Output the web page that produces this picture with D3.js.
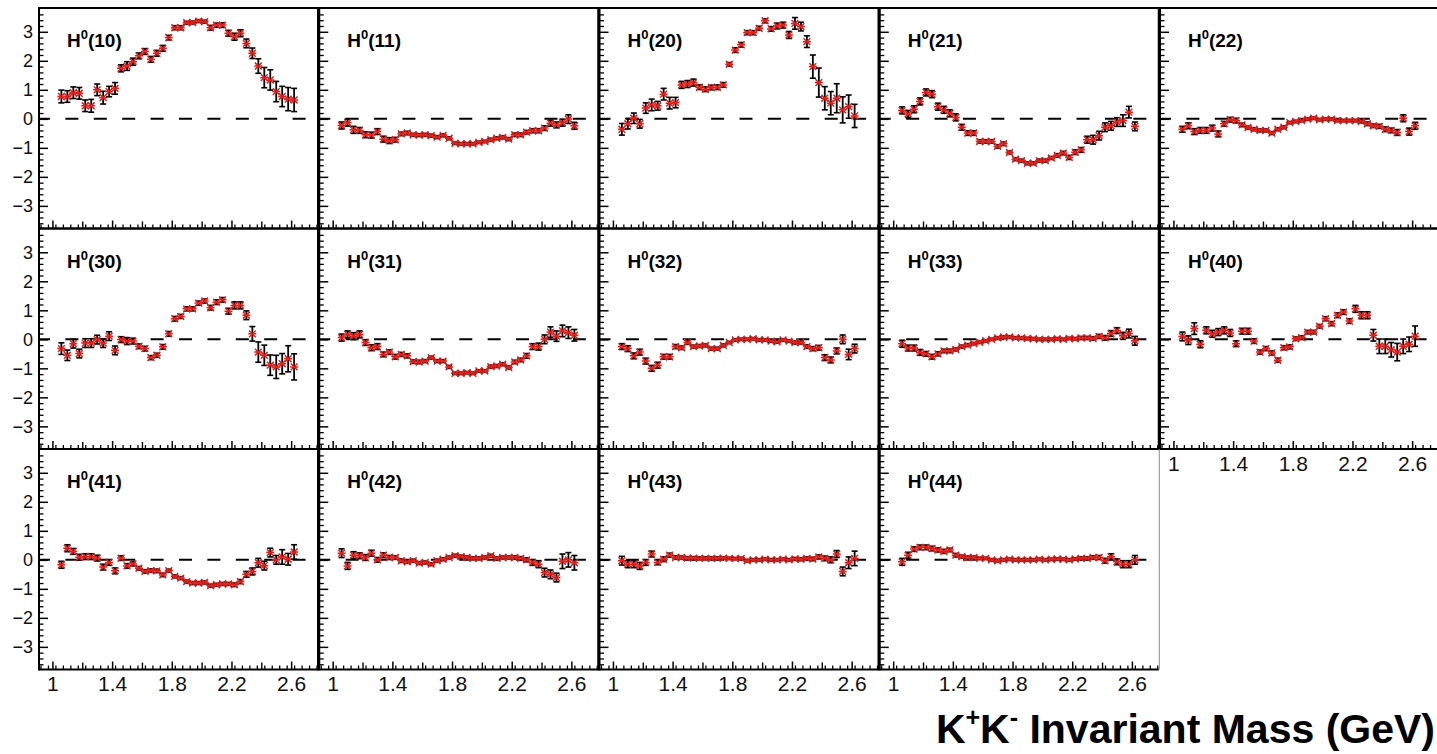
<!DOCTYPE html>
<html>
<head>
<meta charset="utf-8">
<script src="https://cdn.jsdelivr.net/npm/d3@7"></script>
<style>
  html, body { margin: 0; padding: 0; background: #fff; overflow: hidden; }
  svg { display: block; }
  text { font-family: "Liberation Sans", Arial, Helvetica, sans-serif; }
</style>
</head>
<body>
<svg id="chart" width="1437" height="754"></svg>
<script>
// K+K- invariant-mass bin centres (GeV)
const massBins = [1.06,1.10,1.14,1.18,1.22,1.26,1.30,1.34,1.38,1.42,1.46,1.50,1.54,1.58,1.62,1.66,1.70,1.74,1.78,1.82,
                  1.86,1.90,1.94,1.98,2.02,2.06,2.10,2.14,2.18,2.22,2.26,2.30,2.34,2.38,2.42,2.46,2.50,2.54,2.58,2.62];

const xTickValues = [1.0, 1.4, 1.8, 2.2, 2.6];
const yTickValues = [3, 2, 1, 0, -1, -2, -3];

// Moment labels H^0(LM), one per pad
const momentLabels = ["10","11","20","21","22","30","31","32","33","40","41","42","43","44"];

// Moment values and their uncertainties per mass bin
const h10 = [0.77,0.77,0.90,0.88,0.45,0.45,1.00,0.73,0.94,1.05,1.74,1.82,1.97,2.17,2.32,2.05,2.26,2.43,2.80,3.14,3.14,3.31,3.32,3.37,3.35,3.14,3.23,3.23,2.95,2.83,2.95,2.60,2.26,1.82,1.42,1.34,0.94,0.77,0.68,0.65];
const h10Err = [0.22,0.20,0.20,0.20,0.20,0.22,0.20,0.22,0.18,0.20,0.12,0.15,0.12,0.10,0.10,0.10,0.10,0.10,0.08,0.07,0.07,0.05,0.05,0.05,0.05,0.08,0.07,0.08,0.10,0.12,0.12,0.15,0.18,0.25,0.35,0.35,0.35,0.35,0.40,0.40];

const h11 = [-0.23,-0.13,-0.38,-0.40,-0.55,-0.56,-0.44,-0.70,-0.75,-0.72,-0.52,-0.49,-0.55,-0.56,-0.55,-0.58,-0.63,-0.57,-0.67,-0.84,-0.86,-0.86,-0.86,-0.81,-0.78,-0.72,-0.67,-0.64,-0.70,-0.55,-0.55,-0.46,-0.41,-0.41,-0.32,-0.15,-0.21,-0.13,-0.01,-0.24];
const h11Err = [0.12,0.12,0.12,0.10,0.10,0.10,0.10,0.10,0.10,0.08,0.06,0.06,0.05,0.05,0.05,0.05,0.05,0.05,0.05,0.04,0.04,0.04,0.04,0.04,0.04,0.05,0.05,0.05,0.05,0.06,0.06,0.06,0.07,0.07,0.08,0.10,0.10,0.12,0.15,0.12];

const h20 = [-0.36,-0.17,0.02,-0.17,0.37,0.48,0.45,0.85,0.54,0.56,1.17,1.20,1.25,1.09,1.02,1.08,1.09,1.17,1.88,2.37,2.55,2.97,2.97,3.12,3.38,3.10,3.20,3.23,2.89,3.29,3.18,2.66,1.80,1.25,0.71,0.54,0.71,0.31,0.42,0.10];
const h20Err = [0.20,0.18,0.18,0.15,0.18,0.20,0.15,0.20,0.20,0.18,0.12,0.12,0.12,0.08,0.08,0.08,0.08,0.08,0.06,0.08,0.08,0.07,0.07,0.07,0.07,0.08,0.10,0.10,0.12,0.20,0.15,0.20,0.40,0.50,0.40,0.40,0.50,0.45,0.40,0.40];

const h21 = [0.29,0.17,0.33,0.60,0.91,0.85,0.42,0.31,0.19,0.05,-0.29,-0.49,-0.49,-0.78,-0.78,-0.78,-0.95,-0.86,-1.16,-1.39,-1.44,-1.53,-1.53,-1.44,-1.44,-1.35,-1.26,-1.18,-1.33,-1.15,-1.07,-0.72,-0.72,-0.58,-0.29,-0.24,-0.11,-0.06,0.23,-0.26];
const h21Err = [0.12,0.12,0.12,0.12,0.12,0.12,0.12,0.12,0.12,0.12,0.10,0.08,0.08,0.06,0.06,0.06,0.06,0.06,0.05,0.05,0.05,0.05,0.05,0.05,0.05,0.05,0.06,0.06,0.07,0.08,0.08,0.12,0.15,0.15,0.15,0.15,0.15,0.20,0.20,0.15];

const h22 = [-0.36,-0.24,-0.44,-0.40,-0.40,-0.32,-0.52,-0.17,-0.03,-0.06,-0.21,-0.30,-0.36,-0.40,-0.40,-0.49,-0.36,-0.29,-0.13,-0.09,-0.06,-0.01,0.02,-0.03,-0.01,-0.01,-0.06,-0.06,-0.06,-0.06,-0.09,-0.17,-0.24,-0.26,-0.36,-0.40,-0.47,0.02,-0.44,-0.24];
const h22Err = [0.10,0.10,0.10,0.10,0.10,0.10,0.10,0.08,0.08,0.08,0.06,0.05,0.05,0.05,0.05,0.05,0.05,0.05,0.04,0.04,0.04,0.04,0.04,0.04,0.04,0.04,0.04,0.04,0.04,0.04,0.05,0.06,0.06,0.07,0.08,0.08,0.10,0.12,0.12,0.12];

const h30 = [-0.32,-0.55,-0.15,-0.49,-0.13,-0.13,-0.01,-0.13,0.11,-0.38,-0.01,-0.06,-0.06,-0.24,-0.32,-0.63,-0.55,-0.26,0.19,0.71,0.79,1.05,1.05,1.25,1.32,1.09,1.28,1.36,0.97,1.17,1.17,0.83,0.19,-0.44,-0.55,-0.89,-0.95,-0.84,-0.67,-0.95];
const h30Err = [0.20,0.18,0.15,0.15,0.15,0.15,0.15,0.15,0.15,0.15,0.10,0.12,0.10,0.08,0.08,0.07,0.07,0.08,0.08,0.08,0.07,0.07,0.07,0.07,0.07,0.08,0.08,0.08,0.10,0.12,0.12,0.15,0.25,0.35,0.35,0.35,0.40,0.35,0.45,0.45];

const h31 = [0.06,0.17,0.11,0.17,-0.11,-0.29,-0.25,-0.52,-0.44,-0.60,-0.52,-0.57,-0.77,-0.78,-0.75,-0.63,-0.75,-0.75,-0.95,-1.17,-1.17,-1.15,-1.17,-1.09,-1.09,-0.94,-0.92,-0.86,-0.97,-0.78,-0.71,-0.57,-0.25,-0.25,0.00,0.25,0.11,0.29,0.23,0.14];
const h31Err = [0.12,0.12,0.12,0.12,0.10,0.10,0.10,0.08,0.08,0.08,0.07,0.07,0.06,0.06,0.05,0.05,0.05,0.05,0.05,0.04,0.04,0.04,0.04,0.04,0.04,0.05,0.05,0.05,0.05,0.06,0.06,0.08,0.10,0.12,0.15,0.18,0.18,0.20,0.20,0.20];

const h32 = [-0.25,-0.32,-0.57,-0.44,-0.75,-1.00,-0.89,-0.60,-0.60,-0.25,-0.29,-0.11,-0.25,-0.23,-0.21,-0.32,-0.32,-0.21,-0.11,-0.02,0.00,0.00,0.02,-0.02,-0.02,-0.06,-0.09,-0.02,-0.06,-0.11,-0.11,-0.25,-0.32,-0.29,-0.63,-0.71,-0.40,0.00,-0.52,-0.32];
const h32Err = [0.10,0.10,0.10,0.10,0.10,0.10,0.10,0.08,0.08,0.07,0.06,0.06,0.05,0.05,0.05,0.05,0.05,0.05,0.04,0.04,0.04,0.04,0.04,0.04,0.04,0.04,0.04,0.04,0.04,0.05,0.05,0.06,0.07,0.08,0.10,0.10,0.10,0.15,0.18,0.15];

const h33 = [-0.15,-0.30,-0.30,-0.45,-0.50,-0.60,-0.50,-0.40,-0.40,-0.35,-0.25,-0.20,-0.15,-0.10,-0.05,0.00,0.05,0.08,0.08,0.05,0.05,0.03,0.02,0.00,0.00,0.00,0.02,0.00,0.03,0.02,0.05,0.05,0.03,0.10,0.05,0.20,0.30,0.12,0.20,-0.05];
const h33Err = [0.12,0.10,0.10,0.10,0.08,0.08,0.07,0.06,0.06,0.05,0.05,0.05,0.04,0.04,0.04,0.04,0.04,0.04,0.04,0.04,0.04,0.04,0.04,0.04,0.04,0.04,0.04,0.04,0.04,0.04,0.05,0.05,0.06,0.07,0.08,0.10,0.10,0.12,0.15,0.15];

const h40 = [0.10,-0.03,0.37,-0.17,0.31,0.19,0.25,0.31,0.22,-0.15,0.28,0.28,-0.06,-0.44,-0.32,-0.47,-0.72,-0.29,-0.26,0.02,0.06,0.25,0.25,0.45,0.71,0.54,0.83,0.94,0.63,1.05,0.83,0.83,0.14,-0.24,-0.24,-0.36,-0.44,-0.24,-0.17,0.11];
const h40Err = [0.15,0.15,0.20,0.12,0.12,0.12,0.12,0.12,0.12,0.10,0.10,0.10,0.08,0.07,0.07,0.07,0.07,0.07,0.07,0.06,0.06,0.06,0.06,0.06,0.07,0.07,0.08,0.08,0.08,0.12,0.12,0.12,0.20,0.25,0.25,0.25,0.30,0.25,0.25,0.35];

const h41 = [-0.17,0.40,0.29,0.09,0.11,0.11,0.06,-0.25,-0.09,-0.38,0.06,-0.21,-0.14,-0.29,-0.40,-0.37,-0.38,-0.52,-0.37,-0.57,-0.63,-0.75,-0.80,-0.80,-0.78,-0.89,-0.86,-0.83,-0.83,-0.86,-0.75,-0.50,-0.40,-0.10,-0.20,0.25,0.00,0.10,0.02,0.27];
const h41Err = [0.12,0.12,0.10,0.10,0.10,0.10,0.10,0.10,0.10,0.10,0.08,0.08,0.07,0.06,0.06,0.06,0.06,0.06,0.05,0.05,0.05,0.05,0.05,0.05,0.05,0.05,0.05,0.05,0.05,0.06,0.07,0.10,0.12,0.15,0.15,0.15,0.15,0.25,0.20,0.25];

const h42 = [0.23,-0.21,0.16,0.14,0.08,0.23,0.00,0.16,0.08,0.08,-0.03,-0.07,-0.03,-0.11,-0.09,-0.15,-0.03,0.02,0.08,0.14,0.11,0.08,0.05,0.05,0.08,0.14,0.05,0.08,0.08,0.08,0.05,0.00,-0.09,-0.15,-0.44,-0.50,-0.61,-0.05,0.00,-0.10];
const h42Err = [0.15,0.12,0.12,0.10,0.10,0.10,0.08,0.08,0.07,0.06,0.06,0.05,0.05,0.05,0.05,0.05,0.05,0.05,0.05,0.05,0.05,0.05,0.05,0.05,0.05,0.05,0.05,0.05,0.05,0.06,0.06,0.07,0.10,0.12,0.15,0.15,0.15,0.25,0.25,0.25];

const h43 = [-0.03,-0.15,-0.15,-0.21,-0.09,0.20,-0.09,0.02,0.16,0.08,0.08,0.06,0.06,0.05,0.05,0.05,0.05,0.06,0.05,0.04,0.05,-0.03,0.00,0.00,0.02,0.00,0.00,0.02,0.00,0.03,0.02,0.05,0.03,0.10,0.05,0.00,0.20,-0.40,-0.10,0.05];
const h43Err = [0.15,0.12,0.12,0.12,0.10,0.10,0.08,0.08,0.07,0.06,0.05,0.05,0.05,0.05,0.05,0.05,0.05,0.04,0.04,0.04,0.04,0.04,0.04,0.04,0.04,0.04,0.04,0.04,0.04,0.05,0.05,0.05,0.06,0.07,0.08,0.10,0.12,0.15,0.20,0.25];

const h44 = [-0.07,0.16,0.37,0.43,0.43,0.39,0.34,0.29,0.34,0.16,0.11,0.08,0.08,0.05,0.05,0.00,-0.03,0.00,0.02,0.00,0.00,0.00,0.00,0.02,0.00,0.02,0.03,0.02,0.00,0.03,0.05,0.05,0.08,0.08,-0.03,0.11,-0.07,-0.15,-0.15,0.00];
const h44Err = [0.12,0.10,0.08,0.08,0.08,0.08,0.07,0.07,0.06,0.06,0.05,0.05,0.05,0.04,0.04,0.04,0.04,0.04,0.04,0.04,0.04,0.04,0.04,0.04,0.04,0.04,0.04,0.04,0.04,0.04,0.05,0.05,0.06,0.07,0.08,0.10,0.10,0.12,0.12,0.15];

const momentValues = [h10,h11,h20,h21,h22,h30,h31,h32,h33,h40,h41,h42,h43,h44];
const momentErrors = [h10Err,h11Err,h20Err,h21Err,h22Err,h30Err,h31Err,h32Err,h33Err,h40Err,h41Err,h42Err,h43Err,h44Err];

// ---- layout of the pad grid ----
const nCols = 5, nRows = 3;
const gridLeft = 39, gridTop = 8;
const colPitch = 280.25, rowPitch = 220.5;
const padW = 279, padH = 220.5;
const xDomain = [0.91, 2.78];
const yDomain = [-3.78, 3.82];

const svg = d3.select("#chart");
svg.append("rect").attr("width", 1437).attr("height", 754).attr("fill", "#fff");

const nPads = momentLabels.length;
const pads = momentLabels.map((lab, i) => ({
  label: lab,
  col: i % nCols,
  row: Math.floor(i / nCols),
  points: massBins.map((m, j) => ({ m, v: momentValues[i][j], e: momentErrors[i][j] }))
}));

// a pad shows x labels when nothing sits directly below it
const hasPadBelow = p => (p.row + 1) * nCols + p.col < nPads;
const hasPadRight = p => p.col < nCols - 1 && p.row * nCols + p.col + 1 < nPads;

const starColor = "#e0201c";

pads.forEach(p => {
  const x0 = gridLeft + p.col * colPitch;
  const y0 = gridTop + p.row * rowPitch;
  const x = d3.scaleLinear().domain(xDomain).range([x0, x0 + padW]);
  const y = d3.scaleLinear().domain(yDomain).range([y0 + padH, y0]);
  const g = svg.append("g");

  // zero reference line
  g.append("line")
    .attr("x1", x(xDomain[0])).attr("x2", x(xDomain[1]))
    .attr("y1", y(0)).attr("y2", y(0))
    .attr("stroke", "#000").attr("stroke-width", 2)
    .attr("stroke-dasharray", "13 15.4").attr("stroke-dashoffset", 2);

  // y axis: minor then major ticks, pointing into the pad
  const yMinor = d3.range(-36, 37, 2).map(d => d / 10).filter(d => Math.abs(d % 1) > 1e-6);
  g.append("g").attr("transform", `translate(${x0},0)`)
    .call(d3.axisLeft(y).tickValues(yMinor).tickSize(-4.5).tickFormat(""))
    .call(a => a.select(".domain").remove())
    .call(a => a.selectAll("line").attr("stroke", "#000").attr("stroke-width", 1.3));
  const yMajor = g.append("g").attr("transform", `translate(${x0},0)`)
    .call(d3.axisLeft(y).tickValues(yTickValues).tickSize(-9).tickPadding(6)
      .tickFormat(d => p.col === 0 ? (d < 0 ? "\u2212" + Math.abs(d) : String(d)) : ""))
    .call(a => a.select(".domain").remove());
  yMajor.selectAll("line").attr("stroke", "#000").attr("stroke-width", 1.5);
  yMajor.selectAll("text").attr("font-size", 18).attr("fill", "#111")
    .attr("font-family", "'Liberation Sans', Arial, sans-serif");

  // x axis: 0.05 minor, 0.2 secondary, 0.4 labelled ticks
  const xMinor = d3.range(92, 278, 5).map(d => d / 100);
  const xSecondary = [1.2, 1.6, 2.0, 2.4];
  g.append("g").attr("transform", `translate(0,${y0 + padH})`)
    .call(d3.axisBottom(x).tickValues(xMinor).tickSize(-4).tickFormat(""))
    .call(a => a.select(".domain").remove())
    .call(a => a.selectAll("line").attr("stroke", "#000").attr("stroke-width", 1.3));
  g.append("g").attr("transform", `translate(0,${y0 + padH})`)
    .call(d3.axisBottom(x).tickValues(xSecondary).tickSize(-7).tickFormat(""))
    .call(a => a.select(".domain").remove())
    .call(a => a.selectAll("line").attr("stroke", "#000").attr("stroke-width", 1.4));
  const xMajor = g.append("g").attr("transform", `translate(0,${y0 + padH})`)
    .call(d3.axisBottom(x).tickValues(xTickValues).tickSize(-8).tickPadding(7)
      .tickFormat(d => hasPadBelow(p) ? "" : d3.format("")(d)))
    .call(a => a.select(".domain").remove());
  xMajor.selectAll("line").attr("stroke", "#000").attr("stroke-width", 1.5);
  xMajor.selectAll("text").attr("font-size", 21).attr("fill", "#111")
    .attr("font-family", "'Liberation Sans', Arial, sans-serif");

  // pad frame
  const fx1 = x0, fx2 = x0 + padW, fy1 = y0, fy2 = y0 + padH;
  g.append("line").attr("x1", fx1).attr("x2", fx2).attr("y1", fy1).attr("y2", fy1)
    .attr("stroke", "#000").attr("stroke-width", 2);
  g.append("line").attr("x1", fx1).attr("x2", fx2).attr("y1", fy2).attr("y2", fy2)
    .attr("stroke", "#000").attr("stroke-width", 2);
  g.append("line").attr("x1", fx1).attr("x2", fx1).attr("y1", fy1 - 1).attr("y2", fy2 + 1)
    .attr("stroke", "#000").attr("stroke-width", 2);
  if (hasPadRight(p) || p.col === nCols - 1) {
    g.append("line").attr("x1", fx2).attr("x2", fx2).attr("y1", fy1 - 1).attr("y2", fy2 + 1)
      .attr("stroke", "#000").attr("stroke-width", 2);
  } else {
    g.append("line").attr("x1", fx2 + 0.5).attr("x2", fx2 + 0.5).attr("y1", fy1).attr("y2", fy2)
      .attr("stroke", "#888").attr("stroke-width", 1);
  }

  // data points: error bars with caps, then star markers
  const pts = g.append("g").selectAll("g").data(p.points).join("g");
  pts.append("line")
    .attr("x1", d => x(d.m)).attr("x2", d => x(d.m))
    .attr("y1", d => y(d.v + d.e)).attr("y2", d => y(d.v - d.e))
    .attr("stroke", "#000").attr("stroke-width", 1.8);
  [1, -1].forEach(s => {
    pts.append("line")
      .attr("x1", d => x(d.m) - 3).attr("x2", d => x(d.m) + 3)
      .attr("y1", d => y(d.v + s * d.e)).attr("y2", d => y(d.v + s * d.e))
      .attr("stroke", "#000").attr("stroke-width", 1.6);
  });
  const r = 3.4;
  pts.append("path")
    .attr("d", d => {
      const cx = x(d.m), cy = y(d.v);
      return `M${cx - r},${cy - r}L${cx + r},${cy + r}M${cx - r},${cy + r}L${cx + r},${cy - r}M${cx - r - 0.6},${cy}L${cx + r + 0.6},${cy}`;
    })
    .attr("stroke", starColor).attr("stroke-width", 1.5).attr("fill", "none");

  // pad label H^0(LM)
  const t = g.append("text")
    .attr("x", x0 + 28).attr("y", y0 + 39)
    .attr("font-size", 19).attr("font-weight", "bold").attr("fill", "#000");
  t.append("tspan").text("H");
  t.append("tspan").attr("font-size", 13).attr("dy", -8).text("0");
  t.append("tspan").attr("dy", 8).text("(" + p.label + ")");
});

// x-axis title in the bottom-right corner
const title = svg.append("text")
  .attr("x", 1435).attr("y", 743)
  .attr("text-anchor", "end")
  .attr("font-size", 41).attr("font-weight", "bold").attr("fill", "#000");
title.append("tspan").text("K");
title.append("tspan").attr("font-size", 25).attr("dy", -17).text("+");
title.append("tspan").attr("dy", 17).text("K");
title.append("tspan").attr("font-size", 25).attr("dy", -17).text("-");
title.append("tspan").attr("dy", 17).text(" Invariant Mass (GeV)");
</script>
</body>
</html>
